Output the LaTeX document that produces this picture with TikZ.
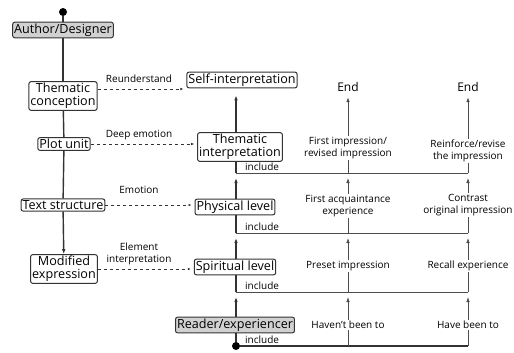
\documentclass[tikz,border=0pt]{standalone}
\usepackage{fontspec}
\setmainfont{Open Sans}
\usetikzlibrary{arrows.meta}
\begin{document}
\begin{tikzpicture}[x=1pt,y=-1pt,
    box/.style={draw=black!80,line width=1pt,rounded corners=2pt,inner sep=1.5pt,align=center,font=\fontsize{12.6}{13}\selectfont},
    graybox/.style={box,fill=black!18},
    lbl/.style={align=center,inner sep=1pt,font=\fontsize{10}{12.5}\selectfont},
    dot/.style={circle,fill=black,inner sep=0pt,minimum size=8pt},
    spine/.style={line width=1.4pt,black!80},
    flow/.style={line width=0.8pt,black!70},
    tip/.style={-{Latex[length=5pt,width=3.6pt]}},
    dashlink/.style={dashed,line width=0.7pt,black!80,-{Latex[length=3pt,width=2.5pt]},shorten >=3pt}]
  \useasboundingbox (0,0) rectangle (514,353);
  %%%% author side
  \node[dot] (topdot) at (63,12) {};
  \node[graybox] (author) at (63,30) {Author/Designer};
  \node[box] (concept) at (63,96) {Thematic\\conception};
  \node[box] (plot) at (64,144) {Plot unit};
  \node[box] (struct) at (63,205) {Text structure};
  \node[box] (modif) at (64,269) {Modified\\expression};
  \draw[spine] (topdot) -- (author);
  \draw[spine] (author) -- (concept);
  \draw[spine] (concept) -- (plot);
  \draw[spine] (plot) -- (struct);
  \draw[spine,tip] (struct) -- (modif);
  %%%% reader side
  \node[box] (self) at (242,80) {Self-interpretation};
  \node[box] (themint) at (240,147) {Thematic\\interpretation};
  \node[box] (phys) at (235,207) {Physical level};
  \node[box] (spirit) at (235,267) {Spiritual level};
  \node[graybox] (reader) at (235,325) {Reader/experiencer};
  \node[dot] (botdot) at (236,346) {};
  %% junctions on the spine
  \coordinate (j1) at (236,173);
  \coordinate (j2) at (236,233);
  \coordinate (j3) at (236,292);
  \draw[spine] (botdot) -- (botdot |- reader.south);
  \draw[spine,tip,shorten >=5pt] (j3 |- reader.north) -- (j3);
  \draw[spine] (j3) -- (j3 |- spirit.south);
  \draw[spine,tip,shorten >=5pt] (j2 |- spirit.north) -- (j2);
  \draw[spine] (j2) -- (j2 |- phys.south);
  \draw[spine,tip,shorten >=5pt] (j1 |- phys.north) -- (j1);
  \draw[spine] (j1) -- (j1 |- themint.south);
  \draw[spine,tip,shorten >=7pt] (j1 |- themint.north) -- (j1 |- self.south);
  %% include labels
  \foreach \j in {j1,j2,j3,botdot}
    \node[lbl,anchor=south west] at ([xshift=8pt,yshift=1pt]\j) {include};
  %%%% dashed links
  \node[lbl] (lre) at (139,79) {Reunderstand};
  \node[lbl] (ldeep) at (139,135) {Deep emotion};
  \node[lbl] (lemo) at (139,190) {Emotion};
  \node[lbl] (lelem) at (139,254) {Element\\interpretation};
  \draw[dashlink] ([yshift=7pt]concept.east) -- ([yshift=7pt]concept.east -| self.west);
  \draw[dashlink] (plot.east) -- (plot.east -| themint.west);
  \draw[dashlink] (struct.east) -- (struct.east -| phys.west);
  \draw[dashlink] (modif.east) -- (modif.east -| spirit.west);
  %%%% experience columns
  \node[lbl] (h1) at (348,325) {Haven't been to};
  \node[lbl] (p1) at (348,266) {Preset impression};
  \node[lbl] (f1) at (348,206) {First acquaintance\\experience};
  \node[lbl] (r1) at (348,148) {First impression/\\revised impression};
  \node[font=\fontsize{12}{13}\selectfont] (e1) at (348,87) {End};
  \node[lbl] (h2) at (468,325) {Have been to};
  \node[lbl] (p2) at (468,266) {Recall experience};
  \node[lbl] (f2) at (468,205) {Contrast\\original impression};
  \node[lbl] (r2) at (468,151) {Reinforce/revise\\the impression};
  \node[font=\fontsize{12}{13}\selectfont] (e2) at (468,87) {End};
  %% horizontal lines
  \draw[spine] (botdot) -- (h2 |- botdot);
  \foreach \j in {j1,j2,j3}
    \draw[flow] (\j) -- (h2 |- \j);
  \foreach \c in {1,2}
  {
    \draw[flow] (h\c |- botdot) -- (h\c);
    \draw[flow,tip,shorten >=5pt] (h\c) -- (h\c |- j3);
    \draw[flow] (h\c |- j3) -- (p\c);
    \draw[flow,tip,shorten >=5pt] (p\c) -- (p\c |- j2);
    \draw[flow] (p\c |- j2) -- (f\c);
    \draw[flow,tip,shorten >=5pt] (f\c) -- (f\c |- j1);
    \draw[flow] (f\c |- j1) -- (r\c);
    \draw[flow,tip,shorten >=2pt] (r\c) -- (e\c);
  }
\end{tikzpicture}
\end{document}
